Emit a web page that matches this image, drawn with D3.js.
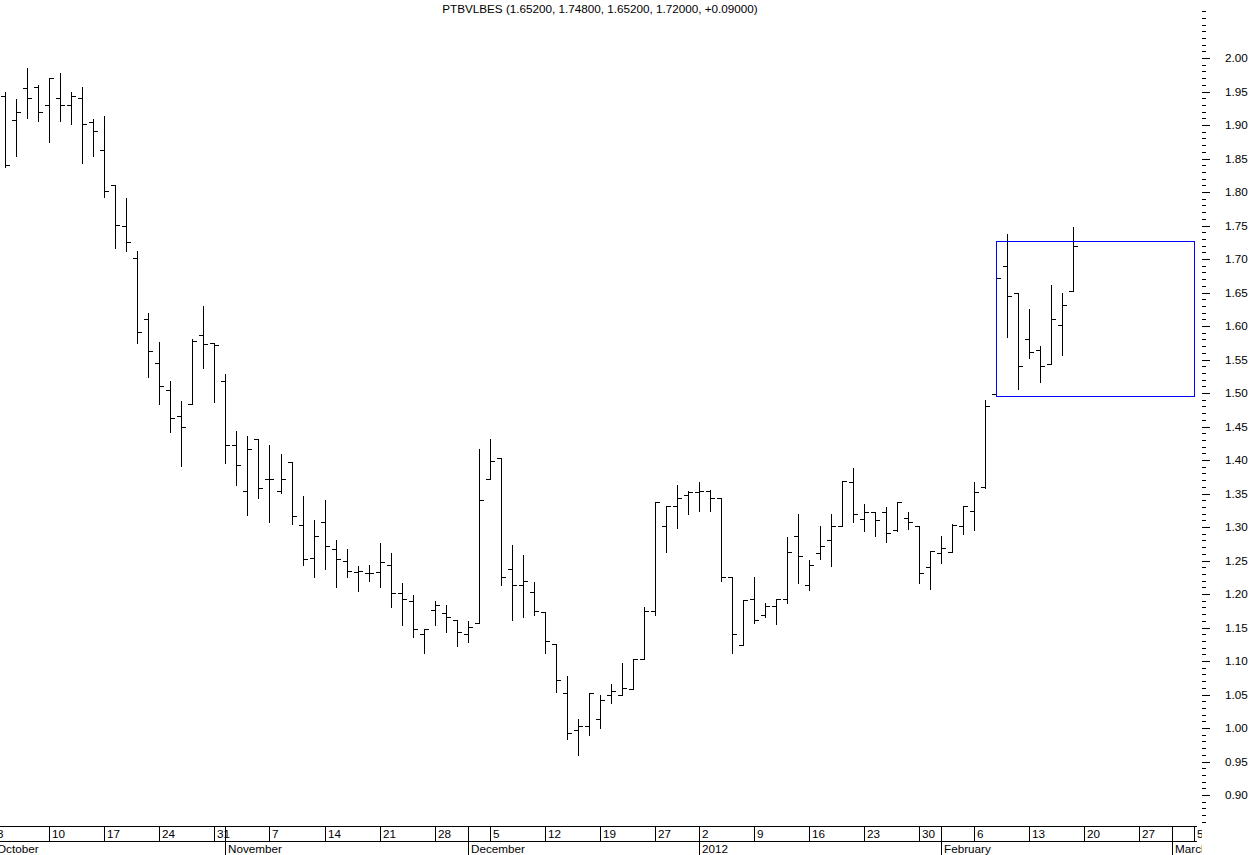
<!DOCTYPE html>
<html><head><meta charset="utf-8">
<script src="https://cdn.jsdelivr.net/npm/d3@7"></script>
<style>
html,body{margin:0;padding:0;background:#fff;}
text{font-family:"Liberation Sans",Arial,sans-serif;fill:#000;}
</style></head>
<body>
<svg id="c" width="1250" height="855"></svg>
<script>
// ---- data ----
const title = "PTBVLBES (1.65200, 1.74800, 1.65200, 1.72000, +0.09000)";
const leadDates = ["2011-10-03"];
const dates = [
"2011-10-04","2011-10-05","2011-10-06","2011-10-07",
"2011-10-10","2011-10-11","2011-10-12","2011-10-13","2011-10-14",
"2011-10-17","2011-10-18","2011-10-19","2011-10-20","2011-10-21",
"2011-10-24","2011-10-25","2011-10-26","2011-10-27","2011-10-28",
"2011-10-31","2011-11-01","2011-11-02","2011-11-03","2011-11-04",
"2011-11-07","2011-11-08","2011-11-09","2011-11-10","2011-11-11",
"2011-11-14","2011-11-15","2011-11-16","2011-11-17","2011-11-18",
"2011-11-21","2011-11-22","2011-11-23","2011-11-24","2011-11-25",
"2011-11-28","2011-11-29","2011-11-30","2011-12-01","2011-12-02",
"2011-12-05","2011-12-06","2011-12-07","2011-12-08","2011-12-09",
"2011-12-12","2011-12-13","2011-12-14","2011-12-15","2011-12-16",
"2011-12-19","2011-12-20","2011-12-21","2011-12-22","2011-12-23",
"2011-12-27","2011-12-28","2011-12-29","2011-12-30",
"2012-01-02","2012-01-03","2012-01-04","2012-01-05","2012-01-06",
"2012-01-09","2012-01-10","2012-01-11","2012-01-12","2012-01-13",
"2012-01-16","2012-01-17","2012-01-18","2012-01-19","2012-01-20",
"2012-01-23","2012-01-24","2012-01-25","2012-01-26","2012-01-27",
"2012-01-30","2012-01-31","2012-02-01","2012-02-02","2012-02-03",
"2012-02-06","2012-02-07","2012-02-08","2012-02-09","2012-02-10",
"2012-02-13","2012-02-14","2012-02-15","2012-02-16","2012-02-17"];
const trailDates = ["2012-02-20","2012-02-21","2012-02-22","2012-02-23","2012-02-24",
"2012-02-27","2012-02-28","2012-02-29","2012-03-01","2012-03-02","2012-03-05"];

const open = [1.943,1.907,1.955,1.956,
1.930,1.941,1.930,1.940,1.904,
1.862,1.810,1.750,1.701,1.611,
1.545,1.504,1.465,1.483,1.587,
1.574,1.518,1.422,1.353,1.431,
1.372,1.353,1.397,1.303,1.253,
1.308,1.267,1.249,1.233,1.231,
1.233,1.243,1.202,1.190,1.141,
1.176,1.171,1.161,1.141,1.156,
1.371,1.403,1.237,1.213,1.203,
1.173,1.126,1.052,0.997,1.003,
1.013,1.049,1.049,1.058,1.103,
1.174,1.302,1.331,1.348,
1.352,1.354,1.343,1.225,1.124,
1.193,1.168,1.182,1.192,1.286,
1.213,1.261,1.280,1.302,1.367,
1.312,1.322,1.322,1.296,1.313,
1.302,1.241,1.261,1.263,1.301,
1.324,1.359,1.499,1.690,1.649,
1.580,1.564,1.543,1.601,1.652];
const high = [1.949,1.939,1.985,1.960,
1.970,1.977,1.950,1.956,1.909,
1.914,1.810,1.791,1.712,1.619,
1.576,1.518,1.488,1.580,1.630,
1.574,1.528,1.443,1.436,1.431,
1.422,1.409,1.397,1.347,1.311,
1.341,1.280,1.267,1.242,1.243,
1.276,1.261,1.216,1.199,1.148,
1.190,1.184,1.161,1.160,1.416,
1.431,1.403,1.273,1.258,1.218,
1.173,1.126,1.078,1.013,1.052,
1.050,1.066,1.097,1.103,1.180,
1.338,1.331,1.363,1.354,
1.367,1.355,1.343,1.225,1.191,
1.225,1.186,1.192,1.285,1.319,
1.251,1.301,1.319,1.369,1.388,
1.334,1.322,1.330,1.338,1.322,
1.302,1.264,1.287,1.305,1.331,
1.367,1.490,1.690,1.738,1.649,
1.625,1.570,1.661,1.649,1.748];
const low = [1.837,1.854,1.911,1.906,
1.874,1.906,1.902,1.844,1.853,
1.792,1.717,1.712,1.575,1.524,
1.483,1.442,1.391,1.483,1.538,
1.486,1.395,1.362,1.318,1.344,
1.308,1.351,1.305,1.244,1.225,
1.238,1.211,1.226,1.205,1.220,
1.211,1.181,1.153,1.136,1.112,
1.153,1.144,1.123,1.129,1.156,
1.371,1.213,1.161,1.165,1.168,
1.112,1.053,0.983,0.959,0.989,
1.000,1.038,1.049,1.058,1.103,
1.169,1.263,1.298,1.319,
1.324,1.324,1.220,1.112,1.124,
1.156,1.165,1.155,1.187,1.217,
1.206,1.252,1.242,1.302,1.308,
1.294,1.287,1.277,1.294,1.297,
1.216,1.208,1.247,1.263,1.290,
1.296,1.358,1.499,1.584,1.506,
1.552,1.517,1.543,1.556,1.652];
const close = [1.840,1.920,1.940,1.920,
1.970,1.930,1.943,1.901,1.891,
1.801,1.751,1.725,1.591,1.562,
1.511,1.462,1.450,1.577,1.573,
1.572,1.422,1.392,1.417,1.358,
1.372,1.372,1.316,1.252,1.287,
1.271,1.252,1.234,1.234,1.231,
1.248,1.202,1.193,1.148,1.148,
1.184,1.166,1.144,1.151,1.341,
1.398,1.225,1.213,1.220,1.174,
1.130,1.072,0.992,1.003,1.052,
1.042,1.055,1.059,1.103,1.174,
1.338,1.331,1.344,1.352,
1.354,1.344,1.225,1.141,1.191,
1.161,1.182,1.192,1.262,1.256,
1.244,1.271,1.302,1.369,1.319,
1.322,1.311,1.291,1.338,1.308,
1.231,1.264,1.269,1.303,1.331,
1.352,1.481,1.672,1.645,1.541,
1.561,1.541,1.611,1.631,1.720];

const boxStart = "2012-02-08", boxEnd = "2012-03-05";
const boxTop = 1.727, boxBottom = 1.4955;

const weekTicks = ["2011-10-03","2011-10-10","2011-10-17","2011-10-24","2011-10-31",
"2011-11-07","2011-11-14","2011-11-21","2011-11-28","2011-12-05","2011-12-12","2011-12-19",
"2011-12-27","2012-01-02","2012-01-09","2012-01-16","2012-01-23","2012-01-30",
"2012-02-06","2012-02-13","2012-02-20","2012-02-27","2012-03-05"];
const weekLabels = ["3","10","17","24","31","7","14","21","28","5","12","19",
"27","2","9","16","23","30","6","13","20","27","5"];
const monthTicks = ["2011-10-03","2011-11-01","2011-12-01","2012-01-02","2012-02-01","2012-03-01"];
const monthLabels = ["October","November","December","2012","February","March"];
const yLabelValues = [0.90,0.95,1.00,1.05,1.10,1.15,1.20,1.25,1.30,1.35,1.40,1.45,1.50,
1.55,1.60,1.65,1.70,1.75,1.80,1.85,1.90,1.95,2.00];
const yMinorStart = 0.86, yMinorEnd = 2.07;

// ---- drawing ----
const svg = d3.select("#c");
svg.append("rect").attr("width",1250).attr("height",855).attr("fill","#fff");
const allDates = leadDates.concat(dates, trailDates);
const x = d3.scalePoint().domain(allDates).range([-5.75, 1194.3]);
const y = d3.scaleLinear().domain([1.0, 2.0]).range([728, 58]);
const px = v => Math.round(v) + 0.5;

const plotR = 1202;
svg.append("defs").append("clipPath").attr("id","plotclip")
  .append("rect").attr("x",0).attr("y",0).attr("width",plotR).attr("height",826);
svg.append("defs").append("clipPath").attr("id","axclip")
  .append("rect").attr("x",0).attr("y",826).attr("width",plotR).attr("height",30);

svg.append("text").attr("x",600).attr("y",13).attr("text-anchor","middle")
  .style("font-size","11.7px").text(title);

const bars = dates.map((d,i)=>({d,o:open[i],h:high[i],l:low[i],c:close[i]}));
const g = svg.append("g").attr("clip-path","url(#plotclip)");
const bg = g.selectAll("g.bar").data(bars).join("g").attr("class","bar");
bg.append("line").attr("x1",d=>px(x(d.d))).attr("x2",d=>px(x(d.d)))
  .attr("y1",d=>Math.round(y(d.h))).attr("y2",d=>Math.round(y(d.l))+1)
  .attr("stroke","#000").attr("stroke-width",1);
bg.append("line").attr("x1",d=>Math.round(x(d.d))-4).attr("x2",d=>Math.round(x(d.d))+1)
  .attr("y1",d=>px(y(d.o))).attr("y2",d=>px(y(d.o)))
  .attr("stroke","#000").attr("stroke-width",1);
bg.append("line").attr("x1",d=>Math.round(x(d.d))).attr("x2",d=>Math.round(x(d.d))+5)
  .attr("y1",d=>px(y(d.c))).attr("y2",d=>px(y(d.c)))
  .attr("stroke","#000").attr("stroke-width",1);

// box
const bx0 = px(x(boxStart)), bx1 = px(x(boxEnd));
g.append("rect").attr("x",bx0).attr("y",px(y(boxTop)))
  .attr("width",bx1-bx0).attr("height",Math.round(y(boxBottom))-Math.round(y(boxTop)))
  .attr("fill","none").attr("stroke","#0000ff").attr("stroke-width",1);

// y axis
const minorVals = d3.range(Math.round(yMinorStart*100), Math.round(yMinorEnd*100)+1).map(v=>v/100);
const yMinor = d3.axisRight(y).tickValues(minorVals).tickSize(4).tickFormat("");
const ya = svg.append("g").attr("transform","translate(1202,0)").call(yMinor);
ya.select(".domain").remove();
const yMajor = d3.axisRight(y).tickValues(yLabelValues).tickSize(8).tickPadding(15)
  .tickFormat(d3.format(".2f"));
const yb = svg.append("g").attr("transform","translate(1202,0)").call(yMajor);
yb.select(".domain").remove();
svg.selectAll(".tick line").attr("stroke","#000").attr("shape-rendering","crispEdges");
yb.selectAll("text").attr("font-family",null).attr("font-size",null).style("font-size","11.7px");

// x axis
const xa = svg.append("g").attr("clip-path","url(#axclip)");
xa.append("line").attr("x1",0).attr("x2",1197).attr("y1",826.5).attr("y2",826.5).attr("stroke","#000");
xa.append("line").attr("x1",0).attr("x2",1197).attr("y1",841.5).attr("y2",841.5).attr("stroke","#000");
xa.selectAll("line.wk").data(weekTicks).join("line").attr("class","wk")
  .attr("x1",d=>px(x(d))).attr("x2",d=>px(x(d))).attr("y1",826).attr("y2",842).attr("stroke","#000");
xa.selectAll("text.wk").data(weekTicks).join("text").attr("class","wk")
  .attr("x",d=>Math.round(x(d))+3).attr("y",838).style("font-size","11.7px")
  .text((d,i)=>weekLabels[i]);
xa.selectAll("line.mo").data(monthTicks).join("line").attr("class","mo")
  .attr("x1",d=>px(x(d))).attr("x2",d=>px(x(d))).attr("y1",826).attr("y2",855).attr("stroke","#000");
xa.selectAll("text.mo").data(monthTicks).join("text").attr("class","mo")
  .attr("x",d=>Math.round(x(d))+3).attr("y",853).style("font-size","11.7px")
  .text((d,i)=>monthLabels[i]);
</script>
</body></html>
